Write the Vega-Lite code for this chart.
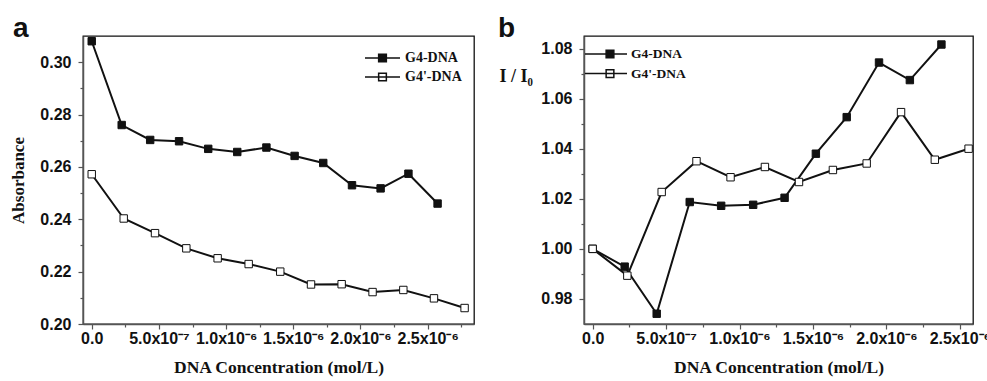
{
  "$schema": "https://vega.github.io/schema/vega-lite/v6.json",
  "background": "white",
  "padding": {"left": 9, "top": 13, "right": 0, "bottom": 0},
  "spacing": 110,
  "bounds": "flush",
  "resolve": {"scale": {"fill": "independent"}, "legend": {"fill": "independent"}},
  "config": {
    "view": {"stroke": "#111", "strokeWidth": 1.3},
    "axis": {
      "labelFont": "Liberation Sans", "labelFontWeight": "bold", "labelFontSize": 16, "labelColor": "#111",
      "titleFont": "Liberation Serif", "titleFontWeight": "bold", "titleFontSize": 17.5, "titleColor": "#111",
      "domainColor": "#555", "domainWidth": 1.5, "tickColor": "#555", "tickWidth": 1.2, "tickSize": 5,
      "grid": false, "labelFlush": false, "labelOverlap": false, "labelBound": false
    },
    "legend": {
      "labelFont": "Liberation Serif", "labelFontWeight": "bold", "labelColor": "#111",
      "symbolStrokeColor": "#111", "symbolStrokeWidth": 1.5, "symbolSize": 196, "padding": 0
    },
    "title": {"font": "Liberation Sans", "fontSize": 28, "fontWeight": "bold", "color": "#111"}
  },
  "datasets": {
    "abs": [
      {"conc": 0, "value": 0.308, "series": "G4-DNA"},
      {"conc": 2.23e-7, "value": 0.276, "series": "G4-DNA"},
      {"conc": 4.35e-7, "value": 0.2703, "series": "G4-DNA"},
      {"conc": 6.5e-7, "value": 0.2698, "series": "G4-DNA"},
      {"conc": 8.67e-7, "value": 0.2669, "series": "G4-DNA"},
      {"conc": 1.083e-6, "value": 0.2657, "series": "G4-DNA"},
      {"conc": 1.3e-6, "value": 0.2674, "series": "G4-DNA"},
      {"conc": 1.51e-6, "value": 0.2642, "series": "G4-DNA"},
      {"conc": 1.723e-6, "value": 0.2615, "series": "G4-DNA"},
      {"conc": 1.937e-6, "value": 0.253, "series": "G4-DNA"},
      {"conc": 2.15e-6, "value": 0.2518, "series": "G4-DNA"},
      {"conc": 2.357e-6, "value": 0.2574, "series": "G4-DNA"},
      {"conc": 2.574e-6, "value": 0.246, "series": "G4-DNA"},
      {"conc": 0, "value": 0.2572, "series": "G4'-DNA"},
      {"conc": 2.38e-7, "value": 0.2403, "series": "G4'-DNA"},
      {"conc": 4.71e-7, "value": 0.2347, "series": "G4'-DNA"},
      {"conc": 7.04e-7, "value": 0.2289, "series": "G4'-DNA"},
      {"conc": 9.37e-7, "value": 0.2251, "series": "G4'-DNA"},
      {"conc": 1.168e-6, "value": 0.2229, "series": "G4'-DNA"},
      {"conc": 1.403e-6, "value": 0.22, "series": "G4'-DNA"},
      {"conc": 1.632e-6, "value": 0.2151, "series": "G4'-DNA"},
      {"conc": 1.86e-6, "value": 0.2152, "series": "G4'-DNA"},
      {"conc": 2.09e-6, "value": 0.2122, "series": "G4'-DNA"},
      {"conc": 2.319e-6, "value": 0.213, "series": "G4'-DNA"},
      {"conc": 2.547e-6, "value": 0.2098, "series": "G4'-DNA"},
      {"conc": 2.775e-6, "value": 0.2061, "series": "G4'-DNA"}
    ],
    "fluo": [
      {"conc": 0, "value": 1.0, "series": "G4-DNA"},
      {"conc": 2.18e-7, "value": 0.9929, "series": "G4-DNA"},
      {"conc": 4.36e-7, "value": 0.9741, "series": "G4-DNA"},
      {"conc": 6.61e-7, "value": 1.0187, "series": "G4-DNA"},
      {"conc": 8.75e-7, "value": 1.0172, "series": "G4-DNA"},
      {"conc": 1.093e-6, "value": 1.0176, "series": "G4-DNA"},
      {"conc": 1.307e-6, "value": 1.0204, "series": "G4-DNA"},
      {"conc": 1.52e-6, "value": 1.038, "series": "G4-DNA"},
      {"conc": 1.73e-6, "value": 1.0526, "series": "G4-DNA"},
      {"conc": 1.95e-6, "value": 1.0744, "series": "G4-DNA"},
      {"conc": 2.16e-6, "value": 1.0674, "series": "G4-DNA"},
      {"conc": 2.375e-6, "value": 1.0816, "series": "G4-DNA"},
      {"conc": 0, "value": 1.0, "series": "G4'-DNA"},
      {"conc": 2.36e-7, "value": 0.9893, "series": "G4'-DNA"},
      {"conc": 4.7e-7, "value": 1.0227, "series": "G4'-DNA"},
      {"conc": 7.07e-7, "value": 1.035, "series": "G4'-DNA"},
      {"conc": 9.39e-7, "value": 1.0286, "series": "G4'-DNA"},
      {"conc": 1.173e-6, "value": 1.0327, "series": "G4'-DNA"},
      {"conc": 1.405e-6, "value": 1.0267, "series": "G4'-DNA"},
      {"conc": 1.636e-6, "value": 1.0315, "series": "G4'-DNA"},
      {"conc": 1.866e-6, "value": 1.0341, "series": "G4'-DNA"},
      {"conc": 2.1e-6, "value": 1.0546, "series": "G4'-DNA"},
      {"conc": 2.33e-6, "value": 1.0356, "series": "G4'-DNA"},
      {"conc": 2.56e-6, "value": 1.04, "series": "G4'-DNA"}
    ]
  },
  "hconcat": [
    {
      "width": 391, "height": 288,
      "title": {"text": "a", "anchor": "start", "frame": "group", "dx": -70, "offset": -7},
      "data": {"name": "abs"},
      "layer": [
        {
          "mark": {"type": "line", "color": "#111", "strokeWidth": 2},
          "encoding": {
            "x": {"field": "conc", "type": "quantitative",
              "scale": {"domain": [-6.5e-8, 2.845e-6], "nice": false, "zero": false},
              "axis": {"values": [0, 5e-7, 1e-6, 1.5e-6, 2e-6, 2.5e-6], "labelPadding": 1,
                "labelExpr": "datum.value < 1e-9 ? '0.0' : datum.value < 9e-7 ? format(datum.value*1e7, '.1f') + 'x10⁻⁷' : format(datum.value*1e6, '.1f') + 'x10⁻⁶'",
                "title": "DNA Concentration (mol/L)", "titlePadding": 12}},
            "y": {"field": "value", "type": "quantitative",
              "scale": {"domain": [0.2, 0.31], "nice": false, "zero": false},
              "axis": {"values": [0.2, 0.22, 0.24, 0.26, 0.28, 0.3], "format": ".2f", "labelPadding": 7,
                "title": "Absorbance", "titlePadding": 12, "titleFontSize": 17}},
            "detail": {"field": "series"}
          }
        },
        {
          "mark": {"type": "point", "shape": "square", "filled": true, "size": 55, "stroke": "#111", "strokeWidth": 1, "opacity": 1},
          "encoding": {
            "x": {"field": "conc", "type": "quantitative",
              "axis": {"orient": "bottom", "values": [2.5e-7, 7.5e-7, 1.25e-6, 1.75e-6, 2.25e-6, 2.75e-6], "labels": false, "tickSize": 3, "domain": false, "title": null}},
            "y": {"field": "value", "type": "quantitative",
              "axis": {"orient": "left", "values": [0.21, 0.23, 0.25, 0.27, 0.29], "labels": false, "tickSize": 3, "domain": false, "title": null}},
            "fill": {"field": "series", "type": "nominal",
              "scale": {"domain": ["G4-DNA", "G4'-DNA"], "range": ["#111", "#ffffff"]},
              "legend": {"title": null, "orient": "none", "legendX": 302, "legendY": 14, "labelFontSize": 14, "labelOffset": 4, "rowPadding": 4,
                "symbolType": "M-4,0H1M-2.05,-0.55H-0.95V0.55H-2.05Z"}}
          }
        }
      ],
      "resolve": {"axis": {"x": "independent", "y": "independent"}}
    },
    {
      "width": 389, "height": 288,
      "title": {"text": "b", "anchor": "start", "frame": "group", "dx": -86, "offset": -7},
      "data": {"name": "fluo"},
      "layer": [
        {
          "mark": {"type": "line", "color": "#111", "strokeWidth": 2},
          "encoding": {
            "x": {"field": "conc", "type": "quantitative",
              "scale": {"domain": [-5.9e-8, 2.59e-6], "nice": false, "zero": false},
              "axis": {"values": [0, 5e-7, 1e-6, 1.5e-6, 2e-6, 2.5e-6], "labelPadding": 1,
                "labelExpr": "datum.value < 1e-9 ? '0.0' : datum.value < 9e-7 ? format(datum.value*1e7, '.1f') + 'x10⁻⁷' : format(datum.value*1e6, '.1f') + 'x10⁻⁶'",
                "title": "DNA  Concentration (mol/L)", "titlePadding": 12}},
            "y": {"field": "value", "type": "quantitative",
              "scale": {"domain": [0.97, 1.085], "nice": false, "zero": false},
              "axis": {"values": [0.98, 1.0, 1.02, 1.04, 1.06, 1.08], "format": ".2f", "labelPadding": 7,
                "title": "I / I₀", "titleAngle": 0, "titleAlign": "left", "titleBaseline": "alphabetic",
                "titleX": -85, "titleY": 45.5, "titleFontSize": 18}},
            "detail": {"field": "series"}
          }
        },
        {
          "mark": {"type": "point", "shape": "square", "filled": true, "size": 55, "stroke": "#111", "strokeWidth": 1, "opacity": 1},
          "encoding": {
            "x": {"field": "conc", "type": "quantitative",
              "axis": {"orient": "bottom", "values": [2.5e-7, 7.5e-7, 1.25e-6, 1.75e-6, 2.25e-6], "labels": false, "tickSize": 3, "domain": false, "title": null}},
            "y": {"field": "value", "type": "quantitative",
              "axis": {"orient": "left", "values": [0.99, 1.01, 1.03, 1.05, 1.07], "labels": false, "tickSize": 3, "domain": false, "title": null}},
            "fill": {"field": "series", "type": "nominal",
              "scale": {"domain": ["G4-DNA", "G4'-DNA"], "range": ["#111", "#ffffff"]},
              "legend": {"title": null, "orient": "none", "legendX": 28, "legendY": 10, "labelFontSize": 13.5, "labelOffset": 3, "rowPadding": 4.6,
                "symbolType": "M-5,0H1M-1.98,-0.55H-0.88V0.55H-1.98Z"}}
          }
        }
      ],
      "resolve": {"axis": {"x": "independent", "y": "independent"}}
    }
  ]
}
